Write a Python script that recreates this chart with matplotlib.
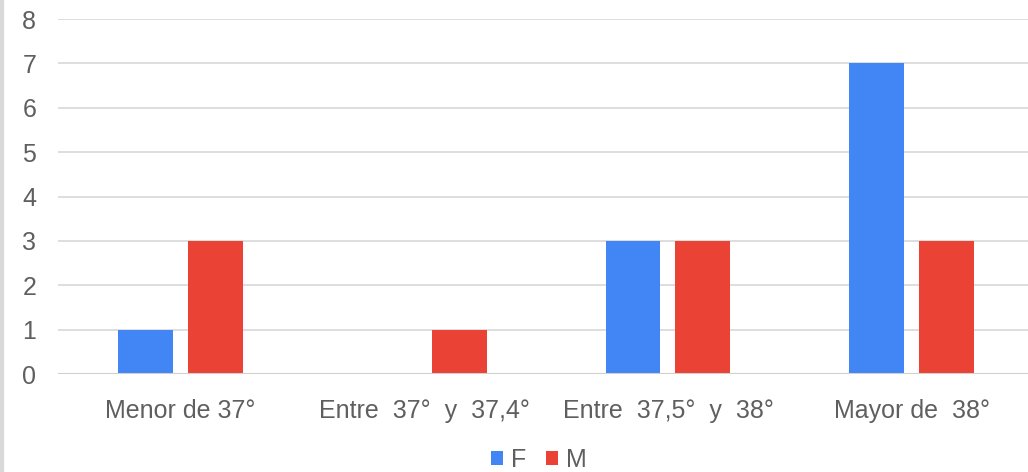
import matplotlib.pyplot as plt
import numpy as np
from matplotlib.lines import Line2D

#==============================================
# DATA
#==============================================

categorias=["Menor de 37°","Entre  37°  y  37,4°","Entre  37,5°  y  38°","Mayor de  38°"]
valores_f=[1,0,3,7]
valores_m=[3,1,3,3]
y_ticks=[0,1,2,3,4,5,6,7,8]

#==============================================
# PLOT
#==============================================

plt.rcParams["font.family"]=["Liberation Sans","DejaVu Sans"]
texto="#5f5f5f"

fig=plt.figure(figsize=(10.28,4.72),dpi=100)
ax=fig.add_axes([0.0569,0.2076,0.9431,0.7521])

x=np.arange(len(categorias))
ancho=0.225
ax.bar(x-0.1434,valores_f,ancho,color="#4285F4",label="F",zorder=3)
ax.bar(x+0.1434,valores_m,ancho,color="#EA4335",label="M",zorder=3)

ax.set_xlim(-0.5,3.477)
ax.set_ylim(0,8)
ax.set_yticks(y_ticks)
ax.set_xticks(x)
ax.set_xticklabels(categorias)
ax.tick_params(axis="y",length=0,pad=16,labelsize=18,labelcolor=texto)
ax.tick_params(axis="x",length=0,pad=18,labelsize=18,labelcolor=texto)
ax.grid(axis="y",color="#dedede",linewidth=1.4,zorder=0)
ax.axhline(0,color="#cfcfcf",linewidth=1.5,zorder=4)
for s in ax.spines.values():
    s.set_visible(False)

ax.legend(loc="center",bbox_to_anchor=(0.524,0.025),bbox_transform=fig.transFigure,
          ncol=2,frameon=False,fontsize=18,labelcolor=texto,handlelength=0.5,
          handleheight=0.5,handletextpad=0.3,columnspacing=0.8)

fig.add_artist(Line2D([0.002,0.002],[0,1],transform=fig.transFigure,color="#d9d9d9",linewidth=3))

fig.savefig("out.png",dpi=100)
